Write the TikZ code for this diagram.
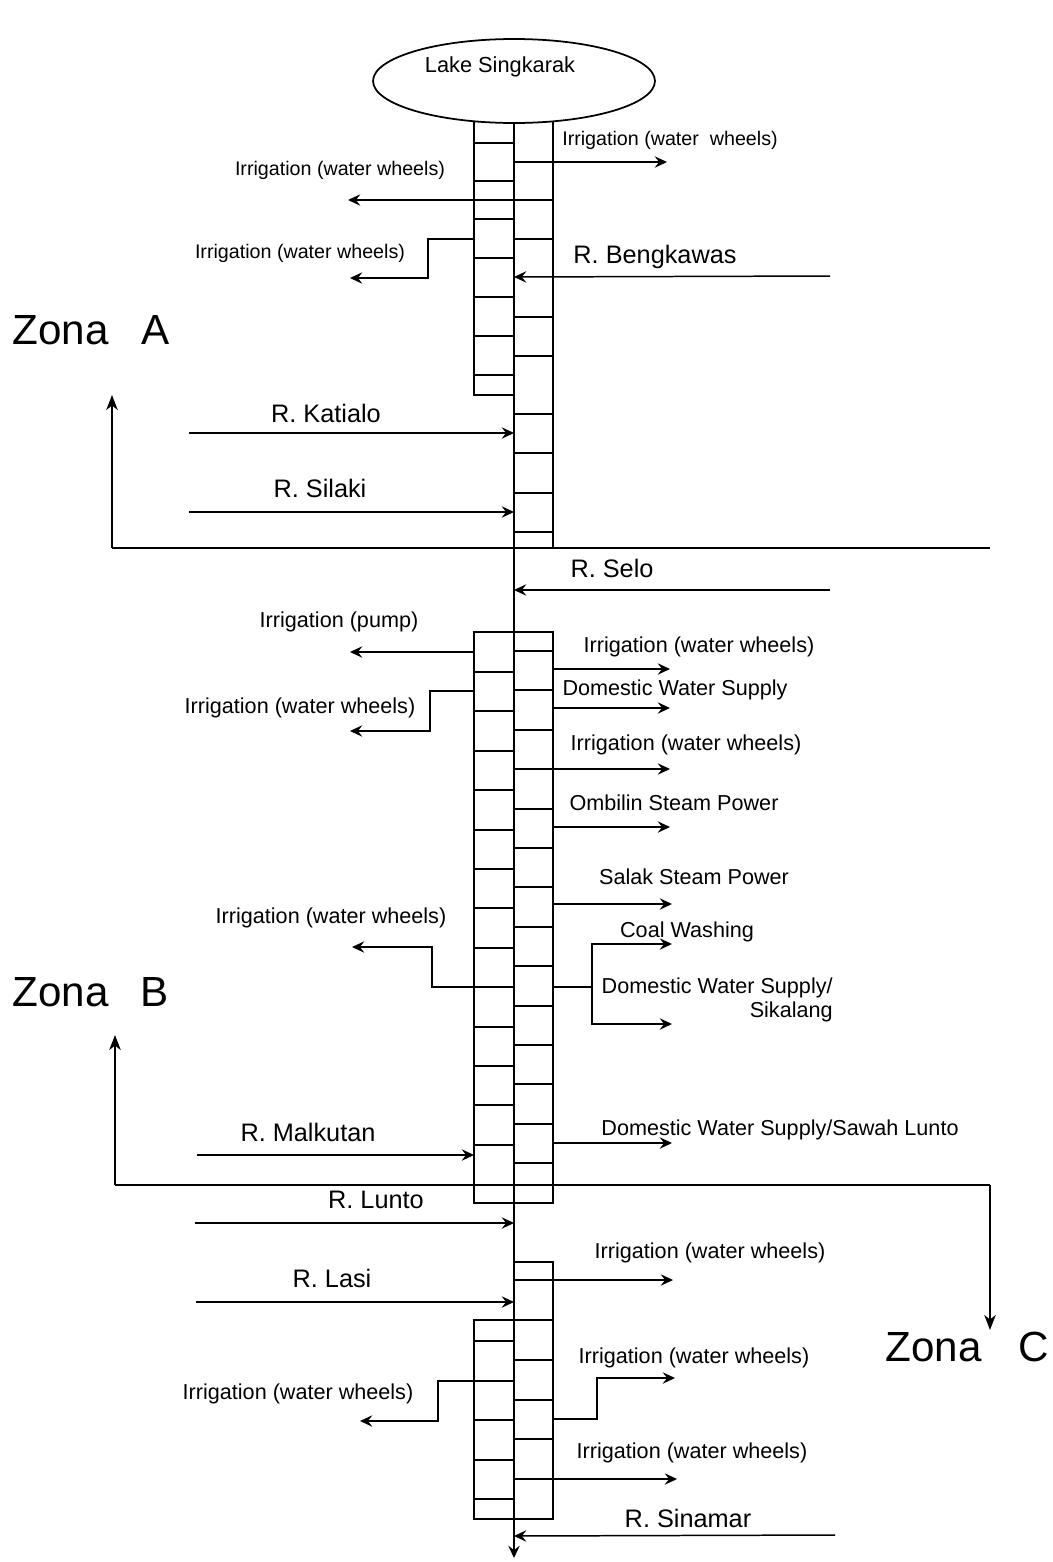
\documentclass[tikz,border=0pt]{standalone}
\usepackage{fontspec}
\setmainfont{Liberation Sans}
\usetikzlibrary{arrows.meta,shapes.geometric}

\begin{document}
\begin{tikzpicture}[x=0.02cm,y=-0.02cm,
    flow/.style={line width=0.85pt},
    arr/.style={flow,-{Stealth[length=7pt,width=6.5pt,inset=2.5pt]}},
    zone/.style={line width=1.2pt},
    zonearr/.style={zone,-{Stealth[length=8.5pt,width=6.5pt,inset=2.5pt]}},
    lbl/.style={font=\fontsize{12.3}{14}\selectfont,inner sep=0pt},
    wlbl/.style={font=\fontsize{11.2}{13}\selectfont,inner sep=0pt},
    river/.style={font=\fontsize{14.4}{17}\selectfont,inner sep=0pt},
    zona/.style={font=\fontsize{24}{28}\selectfont,inner sep=0pt,anchor=west},
    lake/.style={ellipse,draw,line width=1pt,fill=white,minimum width=5.64cm,minimum height=1.68cm,inner sep=0pt}]
  \useasboundingbox (0,0) rectangle (1053,1562);
  \def\colL{474}
  \def\colM{514}
  \def\colR{553}

  % Zona A
  \draw[flow] (\colL,110) -- (\colL,395) -- (\colM,395);
  \draw[flow] (\colR,110) -- (\colR,548);
  \foreach \y in {143,181,219,258,297,336,375}
    \draw[flow] (\colL,\y) -- (\colM,\y);
  \foreach \y in {239,317,356,414,453,493,532}
    \draw[flow] (\colM,\y) -- (\colR,\y);
  \node[lake] (lake) at (\colM,81) {};
  \node[font=\fontsize{12.4}{14}\selectfont,inner sep=0pt] (lakename) at (500,67) {Lake Singkarak};
  \draw[arr] (lake.south) -- (\colM,1558);

  \draw[arr] (\colM,162) -- (667,162);
  \node[wlbl] (irrA1) at (670,140) {Irrigation (water\ \ wheels)};
  \draw[arr] (\colR,200) -- (348,200);
  \node[wlbl] (irrA2) at (340,170) {Irrigation (water wheels)};
  \draw[arr] (\colL,239) -- (428,239) -- (428,278) -- (350,278);
  \node[wlbl] (irrA3) at (300,253) {Irrigation (water wheels)};
  \draw[arr] (830,276) -- (\colM,277);
  \node[river] (bengkawas) at (655,257) {R. Bengkawas};
  \draw[arr] (189,433) -- (\colM,433);
  \node[river] (katialo) at (326,413) {R. Katialo};
  \draw[arr] (189,512) -- (\colM,512);
  \node[river] (silaki) at (320,488) {R. Silaki};

  \draw[zone] (112,548) -- (990,548);
  \draw[zonearr] (112,548) -- (112,395);
  \node[zona] (zonaA) at (12,330) {Zona\hspace{19pt}A};

  \draw[arr] (830,590) -- (\colM,590);
  \node[river] (selo) at (612,568) {R. Selo};

  % Zona B
  \draw[flow] (\colL,632) rectangle (\colR,1203);
  \foreach \y in {672,711,751,790,830,869,908,948,1027,1066,1105,1145}
    \draw[flow] (\colL,\y) -- (\colM,\y);
  \foreach \y in {651,690,730,809,848,887,927,966,1006,1045,1084,1124,1163}
    \draw[flow] (\colM,\y) -- (\colR,\y);

  \draw[arr] (\colL,652) -- (350,652);
  \node[lbl] (pump) at (339,622) {Irrigation (pump)};
  \draw[arr] (\colL,691) -- (430,691) -- (430,731) -- (350,731);
  \node[lbl] (irrB1) at (300,708) {Irrigation (water wheels)};
  \draw[arr] (\colM,987) -- (432,987) -- (432,947) -- (352,947);
  \node[lbl] (irrB2) at (331,918) {Irrigation (water wheels)};

  \draw[arr] (\colR,669) -- (670,669);
  \node[lbl] (irrB3) at (699,647) {Irrigation (water wheels)};
  \draw[arr] (\colR,708) -- (670,708);
  \node[lbl] (domB1) at (675,690) {Domestic Water Supply};
  \draw[arr] (\colM,769) -- (670,769);
  \node[lbl] (irrB4) at (686,745) {Irrigation (water wheels)};
  \draw[arr] (\colR,827) -- (670,827);
  \node[lbl] (ombilin) at (674,803) {Ombilin Steam Power};
  \draw[arr] (\colR,904) -- (672,904);
  \node[lbl] (salak) at (694,877) {Salak Steam Power};
  \draw[arr] (\colR,987) -- (592,987) |- (672,944);
  \draw[arr] (592,987) |- (672,1024);
  \node[lbl] (coal) at (687,932) {Coal Washing};
  \node[lbl,align=right,anchor=east] (sikalang) at (833,1000) {Domestic Water Supply/\\Sikalang};
  \draw[arr] (\colR,1143) -- (672,1143);
  \node[lbl] (sawah) at (780,1130) {Domestic Water Supply/Sawah Lunto};

  \draw[arr] (197,1155) -- (\colL,1155);
  \node[river] (malkutan) at (308,1132) {R. Malkutan};

  \draw[zone] (115,1185) -- (990,1185);
  \draw[zonearr] (115,1185) -- (115,1035);
  \draw[zonearr] (990,1185) -- (990,1330);
  \node[zona] (zonaB) at (12,992) {Zona\hspace{18pt}B};
  \node[zona] (zonaC) at (885,1347) {Zona\hspace{21pt}C};

  % Zona C
  \draw[arr] (195,1223) -- (\colM,1223);
  \node[river] (lunto) at (376,1200) {R. Lunto};
  \draw[arr] (196,1302) -- (\colM,1302);
  \node[river] (lasi) at (332,1278) {R. Lasi};
  \draw[flow] (\colM,1262) -| (\colR,1519) -| (\colL,1320) -- (\colR,1320);
  \foreach \y in {1360,1400,1439}
    \draw[flow] (\colM,\y) -- (\colR,\y);
  \foreach \y in {1341,1420,1460,1499}
    \draw[flow] (\colL,\y) -- (\colM,\y);

  \draw[arr] (\colM,1280) -- (673,1280);
  \node[lbl] (irrC1) at (710,1253) {Irrigation (water wheels)};
  \draw[arr] (\colR,1419) -- (597,1419) -- (597,1378) -- (675,1378);
  \node[lbl] (irrC2) at (694,1358) {Irrigation (water wheels)};
  \draw[arr] (\colM,1479) -- (677,1479);
  \node[lbl] (irrC3) at (692,1453) {Irrigation (water wheels)};
  \draw[arr] (\colM,1381) -- (438,1381) -- (438,1421) -- (360,1421);
  \node[lbl] (irrC4) at (298,1394) {Irrigation (water wheels)};
  \draw[arr] (835,1535) -- (\colM,1536);
  \node[river] (sinamar) at (688,1518) {R. Sinamar};
\end{tikzpicture}
\end{document}
